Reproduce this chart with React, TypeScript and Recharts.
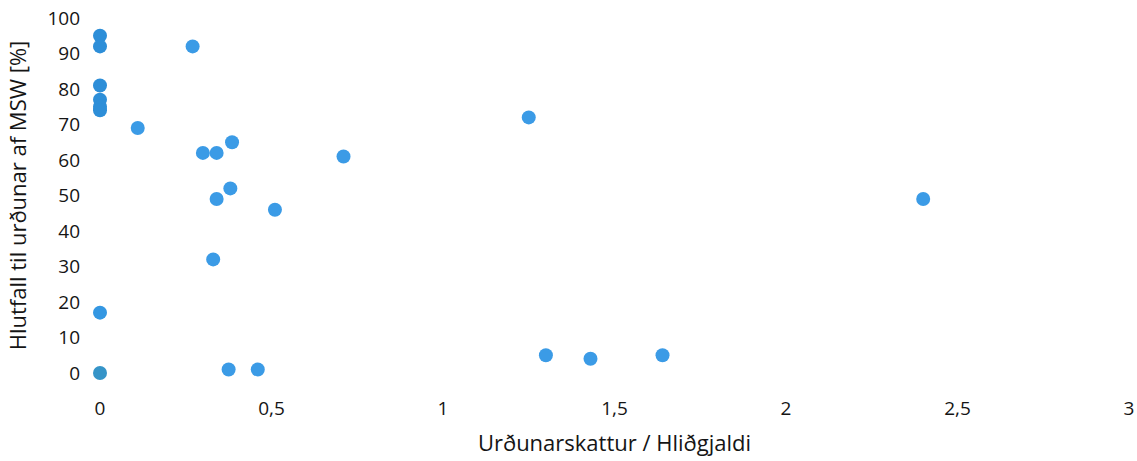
import { ScatterChart, Scatter, XAxis, YAxis, Label, Cell } from 'recharts'

// x = urðunarskattur / hliðgjald, y = hlutfall til urðunar (%)
const xValues = [
  0, 0, 0, 0, 0, 0, 0, 0,
  0.27, 0.11, 0.3, 0.34, 0.385, 0.34, 0.38, 0.51, 0.71,
  1.25, 2.4, 0.33, 0.375, 0.46, 1.3, 1.43, 1.64,
]
const yValues = [
  95, 92, 81, 77, 75, 17, 0, 74,
  92, 69, 62, 62, 65, 49, 52, 46, 61,
  72, 49, 32, 1, 1, 5, 4, 5,
]
const pointColors = [
  '#2d8ed8', '#2d8ed8', '#2d8ed8', '#2d8ed8', '#2d8ed8', '#3497e2', '#3594c8', '#2d8ed8',
]
const xTicks = [0, 0.5, 1, 1.5, 2, 2.5, 3]
const yTicks = [0, 10, 20, 30, 40, 50, 60, 70, 80, 90, 100]

const data = xValues.map((x, i) => ({ x, y: yValues[i] }))

const DEFAULT_COLOR = '#3b9be6'
const TEXT = '#151515'
const FONT = '"Open Sans", sans-serif'
const fmt = (v: number) => String(v).replace('.', ',')

const Dot = (props: any) => (
  <circle cx={props.cx} cy={props.cy} r={7} fill={props.fill} />
)

export default function App() {
  return (
    <div
      style={{
        position: 'absolute',
        left: 0,
        top: 0,
        width: 1137,
        height: 461,
        background: '#fff',
        fontFamily: FONT,
        overflow: 'hidden',
      }}
    >
      <ScatterChart
        width={1137}
        height={461}
        margin={{ top: 18, right: 8, bottom: 0, left: 0 }}
      >
        <XAxis
          type="number"
          dataKey="x"
          domain={[0, 3]}
          ticks={xTicks}
          tickFormatter={fmt}
          axisLine={false}
          tickLine={false}
          tickSize={0}
          tickMargin={29}
          height={88}
          tick={{ fill: TEXT, fontSize: 19, fontFamily: FONT }}
        >
          <Label
            value="Urðunarskattur / Hliðgjaldi"
            position="insideBottom"
            offset={10}
            fill={TEXT}
            fontSize={22}
            fontFamily={FONT}
          />
        </XAxis>
        <YAxis
          type="number"
          dataKey="y"
          domain={[0, 100]}
          ticks={yTicks}
          axisLine={false}
          tickLine={false}
          tickSize={0}
          tickMargin={20}
          width={100}
          tick={{ fill: TEXT, fontSize: 19, fontFamily: FONT }}
        >
          <Label
            value="Hlutfall til urðunar af MSW [%]"
            angle={-90}
            position="insideLeft"
            offset={0}
            dx={18}
            fill={TEXT}
            fontSize={22}
            fontFamily={FONT}
            style={{ textAnchor: 'middle' }}
          />
        </YAxis>
        <Scatter data={data} shape={Dot} fill={DEFAULT_COLOR} isAnimationActive={false}>
          {data.map((_d, i) => (
            <Cell key={`c-${i}`} fill={pointColors[i] ?? DEFAULT_COLOR} />
          ))}
        </Scatter>
      </ScatterChart>
    </div>
  )
}
